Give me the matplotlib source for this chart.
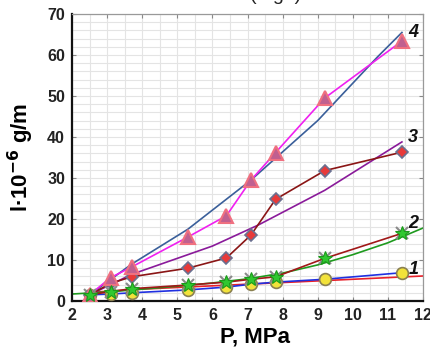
import matplotlib
matplotlib.use("Agg")
import matplotlib.pyplot as plt
from matplotlib.ticker import MultipleLocator

plt.rcParams['font.family'] = ['Liberation Sans', 'DejaVu Sans']

# experimental pressures
P = [2.5, 3.1, 3.7, 5.3, 6.4, 7.1, 7.8, 9.2, 11.4]
y1 = [1.5, 1.7, 2.0, 2.7, 3.4, 4.1, 4.6, 5.3, 6.9]
y2 = [1.5, 2.3, 3.0, 3.9, 4.6, 5.3, 5.9, 10.4, 16.5]
y3 = [1.5, 4.3, 5.9, 8.0, 10.5, 16.1, 24.8, 31.8, 36.3]
y4 = [1.5, 5.7, 8.3, 15.6, 20.8, 29.5, 36.2, 49.5, 63.4]

# trend curves
fit1_x = [2.5, 4, 6, 8, 10, 12]
fit1_y = [2.1, 2.9, 3.7, 4.5, 5.3, 6.1]
fit2_x = [2, 3, 4, 5, 6, 7, 8, 9, 10, 11, 12]
fit2_y = [1.7, 2.2, 2.9, 3.6, 4.4, 5.4, 6.8, 8.8, 11.3, 14.2, 17.8]
fit3_x = [2.5, 3.7, 6.0, 7.3, 9.2, 11.4]
fit3_y = [1.5, 6.5, 13.4, 18.5, 27.0, 38.8]
fit4_x = [2.5, 3.7, 5.3, 7.1, 9.0, 10.7, 11.4]
fit4_y = [1.5, 9.0, 17.5, 29.5, 44.0, 59.5, 65.5]

labels = ["1", "2", "3", "4"]
label_y = [7.8, 18.8, 40.0, 65.6]

fig = plt.figure(figsize=(4.3, 3.48), dpi=100)
ax = fig.add_axes([72/430, 1 - 301/348, (423-72)/430, (301-14)/348])

ax.set_xlim(2, 12)
ax.set_ylim(0, 70)
ax.xaxis.set_major_locator(MultipleLocator(1))
ax.xaxis.set_minor_locator(MultipleLocator(0.5))
ax.yaxis.set_major_locator(MultipleLocator(10))
ax.yaxis.set_minor_locator(MultipleLocator(2))
ax.grid(True, which='both', color='#e4e4e4', lw=0.8)
ax.set_axisbelow(True)
ax.tick_params(which='minor', length=0)
ax.tick_params(which='major', direction='in', length=3, width=0.8,
               top=True, right=True, labelsize=11.5, pad=5, colors='#888888',
               labelcolor='#222222')
for lab in ax.get_xticklabels() + ax.get_yticklabels():
    lab.set_fontweight('bold')
for s in ['left', 'bottom']:
    ax.spines[s].set_linewidth(1.6)
    ax.spines[s].set_color('#111111')
for s in ['top', 'right']:
    ax.spines[s].set_linewidth(0.9)
    ax.spines[s].set_color('#999999')

# trend lines
ax.plot(fit1_x, fit1_y, color='#e8202a', lw=1.2, zorder=2)
ax.plot(fit2_x, fit2_y, color='#1e9a1e', lw=1.2, zorder=2)
ax.plot(fit3_x, fit3_y, color='#8a1a9a', lw=1.2, zorder=2)
ax.plot(fit4_x, fit4_y, color='#3a5f9a', lw=1.2, zorder=2)

# connecting lines
ax.plot(P, y1, color='#2030e0', lw=1.2, zorder=3)
ax.plot(P, y2, color='#a01818', lw=1.2, zorder=3)
ax.plot(P, y3, color='#8a1515', lw=1.2, zorder=3)
ax.plot(P, y4, color='#f020f0', lw=1.2, zorder=3)

# markers
ax.plot(P, y1, ls='none', marker='o', ms=8.5, mfc='#f2e23a', mec='#8a8050', mew=1.2, zorder=5)
ax.plot(P, y2, ls='none', marker='x', ms=9, mec='#8a8a8a', mew=1.5, zorder=5)
ax.plot(P, y2, ls='none', marker='*', ms=10, mfc='#30c830', mec='#1a9a1a', mew=0.8, zorder=6)
ax.plot(P, y3, ls='none', marker='D', ms=6.5, mfc='#e83a3a', mec='#6a7090', mew=1.2, zorder=5)
ax.plot(P, y4, ls='none', marker='^', ms=10.5, mfc='#c06090', mec='#f07080', mew=1.5, zorder=5)

for lb, ly in zip(labels, label_y):
    ax.text(11.58, ly, lb, fontsize=13, fontweight='bold', fontstyle='italic',
            ha='left', va='center', color='#111111', clip_on=False)

ax.set_xlabel('P, MPa', fontsize=16, fontweight='bold')
ax.set_ylabel('l·10$^{\\mathbf{-6}}$ g/m', fontsize=16, fontweight='bold', labelpad=8)
ax.xaxis.set_label_coords(0.52, -0.09)

fig.text(0.64, 1.012, '(Fig. )', fontsize=14, ha='center', va='center', color='#222222')

fig.savefig('out.png', dpi=100)
